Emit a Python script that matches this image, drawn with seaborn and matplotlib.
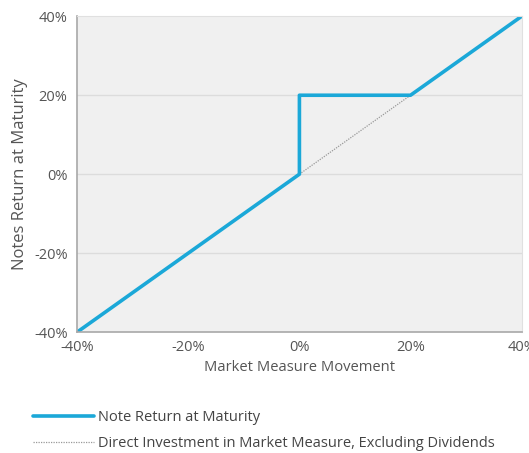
import pandas as pd
import matplotlib.pyplot as plt
import seaborn as sns

# payoff data (in %)
market_move = [-40, 0, 0, 20, 40]
note_return = [-40, 0, 20, 20, 40]
direct_move = [-40, 40]
direct_return = [-40, 40]
ticks = [-40, -20, 0, 20, 40]
tick_labels = ['-40%', '-20%', '0%', '20%', '40%']

sns.set_style('white')
plt.rcParams['font.family'] = ['Open Sans', 'DejaVu Sans']

fig = plt.figure(figsize=(5.29, 4.53), dpi=100)
ax = fig.add_axes([0.146, 0.267, 0.840, 0.697])
ax.set_facecolor('#f0f0f0')

note_df = pd.DataFrame({'x': market_move, 'y': note_return})
direct_df = pd.DataFrame({'x': direct_move, 'y': direct_return})

sns.lineplot(data=direct_df, x='x', y='y', ax=ax, color='#999999', lw=0.9,
             linestyle=(0, (1, 1)), sort=False, estimator=None,
             label='Direct Investment in Market Measure, Excluding Dividends')
sns.lineplot(data=note_df, x='x', y='y', ax=ax, color='#1ba8d8', lw=2.6,
             sort=False, estimator=None, label='Note Return at Maturity')

ax.set_xlim(-40, 40)
ax.set_ylim(-40, 40)
ax.set_xticks(ticks)
ax.set_xticklabels(tick_labels)
ax.set_yticks(ticks)
ax.set_yticklabels(tick_labels)
for t in [-20, 0, 20]:
    ax.axhline(t, color='#dcdcdc', lw=1, zorder=0)
ax.tick_params(colors='#555555', labelsize=10.5, length=0)
ax.tick_params(axis='y', pad=7)
ax.tick_params(axis='x', pad=6)
for s in ['top', 'right']:
    ax.spines[s].set_color('#e0e0e0')
for s in ['left', 'bottom']:
    ax.spines[s].set_color('#a8a8a8')
    ax.spines[s].set_linewidth(1.2)

ax.set_xlabel('Market Measure Movement', color='#555555', fontsize=10.6, labelpad=3)
ax.set_ylabel('Notes Return at Maturity', color='#555555', fontsize=12, labelpad=4)

handles, labels = ax.get_legend_handles_labels()
ax.legend(handles[::-1], labels[::-1], loc='upper left', bbox_to_anchor=(-0.13, -0.205),
          frameon=False, fontsize=10.5, labelcolor='#444444', handlelength=4.2,
          handletextpad=0.3, labelspacing=0.75)

fig.savefig('out.png', dpi=100)
